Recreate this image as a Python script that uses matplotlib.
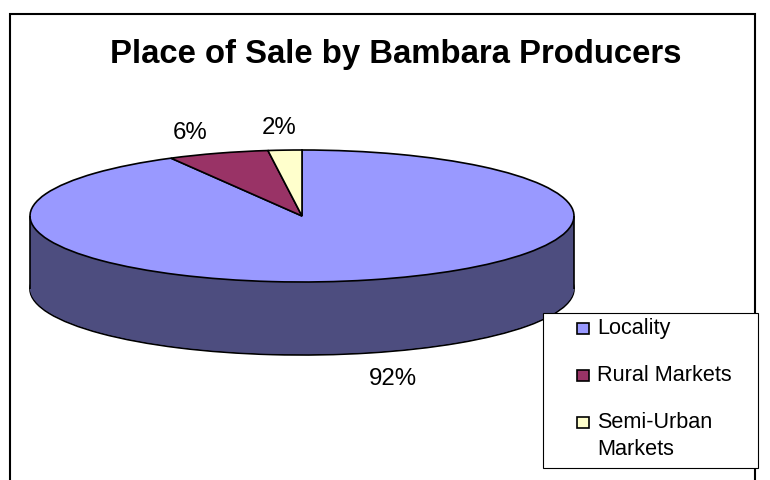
import numpy as np
import matplotlib
matplotlib.use('Agg')
import matplotlib.pyplot as plt
from matplotlib.patches import Rectangle

categories = ['Locality', 'Rural Markets', 'Semi-Urban\nMarkets']
shares = [92, 6, 2]
share_labels = ['92%', '6%', '2%']
top_colors = ['#9999FF', '#993366', '#FFFFCC']
side_colors = ['#4D4D7F', '#4D1A33', '#7F7F66']

W, H = 770, 480
CX, CY, RX, RY, DEPTH = 302, 216, 272, 66, 73

plt.rcParams['font.family'] = ['Liberation Sans', 'DejaVu Sans']

fig = plt.figure(figsize=(W / 100, H / 100), dpi=100)
ax = fig.add_axes([0, 0, 1, 1])

# pie radius is 1 in data units, the limits squash it into the tilted ellipse
depth = DEPTH / RY
edge = {'edgecolor': 'black', 'linewidth': 1.2}

# side wall: stack of dark pies going up from the bottom one
ax.pie(shares, center=(0, -depth), colors=side_colors, startangle=90,
       counterclock=False, wedgeprops=edge)
for off in np.linspace(depth, 0, 80)[1:]:
    ax.pie(shares, center=(0, -off), colors=side_colors, startangle=90,
           counterclock=False, wedgeprops={'linewidth': 0})
ax.vlines([-1, 1], -depth, 0, color='black', linewidth=1.2, zorder=3)
ax.pie(shares, colors=top_colors, startangle=90, counterclock=False,
       wedgeprops=edge)

ax.set_aspect('auto')
ax.set_xlim(-CX / RX, (W - CX) / RX)
ax.set_ylim((CY - H) / RY, CY / RY)
ax.axis('off')

# chart frame, runs off the bottom of the picture
fig.add_artist(Rectangle((10 / W, -0.02), 745 / W, 1.02 - 14 / H,
                         transform=fig.transFigure, fill=False,
                         edgecolor='black', linewidth=1.5))

fig.text(396 / W, 1 - 63 / H, 'Place of Sale by Bambara Producers',
         fontsize=23.7, fontweight='bold', ha='center', va='baseline')

label_pos = [(393, 379), (190, 133), (279, 128)]
for txt, (px, py) in zip(share_labels, label_pos):
    fig.text(px / W, 1 - py / H, txt, fontsize=17.3, ha='center', va='center')

# legend box, drawn by hand because the swatch sits on the first text line
fig.add_artist(Rectangle((543 / W, 1 - 468 / H), 215 / W, 155 / H,
                         transform=fig.transFigure, facecolor='white',
                         edgecolor='black', linewidth=0.8, zorder=4))
swatch_y = [334, 381, 428]
for name, col, py in zip(categories, top_colors, swatch_y):
    fig.add_artist(Rectangle((577 / W, 1 - py / H), 12 / W, 11 / H,
                             transform=fig.transFigure, facecolor=col,
                             edgecolor='black', linewidth=1.2, zorder=5))
    fig.text(597 / W, 1 - py / H, name.split('\n')[0], fontsize=15.6,
             ha='left', va='baseline', zorder=5)
    if '\n' in name:
        fig.text(597 / W, 1 - (py + 27) / H, name.split('\n')[1], fontsize=15.6,
                 ha='left', va='baseline', zorder=5)

fig.savefig('out.png', dpi=100)
